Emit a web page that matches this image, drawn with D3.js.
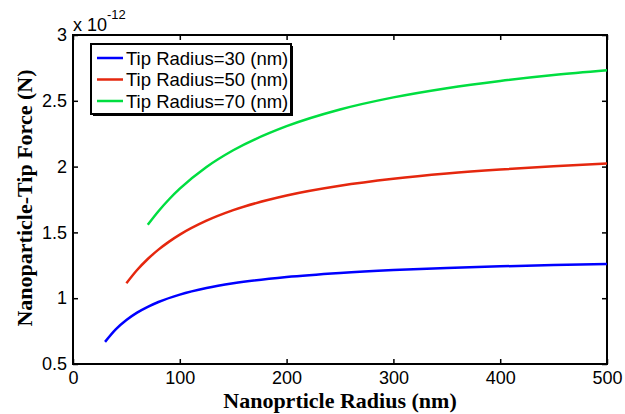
<!DOCTYPE html>
<html>
<head>
<meta charset="utf-8">
<script src="https://cdn.jsdelivr.net/npm/d3@7"></script>
<style>
  body { margin: 0; background: #fff; }
  .tick text { font-family: Arial, "Liberation Sans", sans-serif; font-size: 18px; fill: #000; }
  .axis-label { font-family: "Times New Roman", "Liberation Serif", serif; font-weight: bold; font-size: 22px; }
  .legend-text { font-family: Arial, "Liberation Sans", sans-serif; font-size: 18.5px; }
</style>
</head>
<body>
<svg id="chart"></svg>
<script>
// values (force in units of 1e-12 N)
var radius30 = [30, 40, 50, 60, 70, 80, 100, 125, 150, 200, 250, 300, 350, 400, 450, 500];
var force30  = [0.668, 0.763, 0.834, 0.89, 0.934, 0.971, 1.027, 1.077, 1.113, 1.161, 1.192, 1.214, 1.230, 1.242, 1.252, 1.260];

var radius50 = [50, 60, 70, 80, 90, 100, 125, 150, 200, 250, 300, 350, 400, 450, 500];
var force50  = [1.113, 1.214, 1.298, 1.369, 1.430, 1.483, 1.589, 1.669, 1.780, 1.854, 1.907, 1.947, 1.978, 2.003, 2.023];

var radius70 = [70, 80, 90, 100, 125, 150, 200, 250, 300, 350, 400, 450, 500];
var force70  = [1.558, 1.661, 1.752, 1.832, 1.997, 2.124, 2.307, 2.434, 2.526, 2.596, 2.651, 2.696, 2.732];

var seriesNames = ["Tip Radius=30 (nm)", "Tip Radius=50 (nm)", "Tip Radius=70 (nm)"];
var seriesColors = ["#0000ff", "#e5270e", "#00de40"];

var xTicks = [0, 100, 200, 300, 400, 500];
var yTicks = [0.5, 1, 1.5, 2, 2.5, 3];

var screen = {width: 625, height: 414};
var margins = {top: 35, bottom: 50, left: 73, right: 18};

var graphWidth = screen.width - margins.left - margins.right;
var graphHeight = screen.height - margins.top - margins.bottom;

var svg = d3.select("#chart")
            .attr("width", screen.width)
            .attr("height", screen.height);

var xScale = d3.scaleLinear().domain([0, 500]).range([0, graphWidth]);
var yScale = d3.scaleLinear().domain([0.5, 3]).range([graphHeight, 0]);

var plot = svg.append("g")
              .attr("transform", "translate(" + margins.left + "," + margins.top + ")");

// axes, matlab style box with inward ticks
var xAxis = d3.axisBottom(xScale).tickValues(xTicks).tickSizeInner(-5).tickSizeOuter(0).tickPadding(7);
var yAxis = d3.axisLeft(yScale).tickValues(yTicks).tickSizeInner(-5).tickSizeOuter(0).tickPadding(6)
              .tickFormat(function(d){ return String(d); });
var xTop = d3.axisTop(xScale).tickValues(xTicks).tickSizeInner(-5).tickSizeOuter(0).tickFormat("");
var yRight = d3.axisRight(yScale).tickValues(yTicks).tickSizeInner(-5).tickSizeOuter(0).tickFormat("");

plot.append("g").attr("transform", "translate(0," + graphHeight + ")").call(xAxis);
plot.append("g").call(yAxis);
plot.append("g").call(xTop);
plot.append("g").attr("transform", "translate(" + graphWidth + ",0)").call(yRight);

plot.selectAll(".domain").remove();
plot.selectAll(".tick line").attr("stroke", "#000").attr("stroke-width", 1.5);

plot.append("rect")
    .attr("width", graphWidth)
    .attr("height", graphHeight)
    .attr("fill", "none")
    .attr("stroke", "#000")
    .attr("stroke-width", 2);

// curves
var line = d3.line()
             .x(function(d){ return xScale(d[0]); })
             .y(function(d){ return yScale(d[1]); })
             .curve(d3.curveMonotoneX);

var allSeries = [d3.zip(radius30, force30), d3.zip(radius50, force50), d3.zip(radius70, force70)];

plot.selectAll(".curve")
    .data(allSeries)
    .enter()
    .append("path")
    .attr("class", "curve")
    .attr("d", line)
    .attr("fill", "none")
    .attr("stroke", function(d, i){ return seriesColors[i]; })
    .attr("stroke-width", 2.5);

// exponent label
var expo = svg.append("text")
              .attr("x", margins.left)
              .attr("y", 31)
              .attr("font-family", "Arial, 'Liberation Sans', sans-serif")
              .attr("font-size", 18);
expo.append("tspan").text("x 10");
expo.append("tspan").attr("dy", -12).attr("font-size", 13).text("-12");

// legend
var legend = plot.append("g").attr("transform", "translate(18,9)");
legend.append("rect")
      .attr("x", 2).attr("y", 2)
      .attr("width", 200).attr("height", 70)
      .attr("fill", "#000");
legend.append("rect")
      .attr("width", 200).attr("height", 70)
      .attr("fill", "#fff")
      .attr("stroke", "#000")
      .attr("stroke-width", 2);

var rows = legend.selectAll(".legend-row")
                 .data(seriesNames)
                 .enter()
                 .append("g")
                 .attr("transform", function(d, i){ return "translate(0," + (14 + i * 21.5) + ")"; });
rows.append("line")
    .attr("x1", 6).attr("x2", 32)
    .attr("stroke", function(d, i){ return seriesColors[i]; })
    .attr("stroke-width", 2.5);
rows.append("text")
    .attr("class", "legend-text")
    .attr("x", 35)
    .attr("dy", "0.36em")
    .text(function(d){ return d; });

// axis labels
svg.append("text")
   .attr("class", "axis-label")
   .attr("x", margins.left + graphWidth / 2)
   .attr("y", 408)
   .attr("text-anchor", "middle")
   .text("Nanoprticle Radius (nm)");

svg.append("text")
   .attr("class", "axis-label")
   .attr("transform", "translate(32,198) rotate(-90)")
   .attr("text-anchor", "middle")
   .text("Nanoparticle-Tip Force (N)");
</script>
</body>
</html>
